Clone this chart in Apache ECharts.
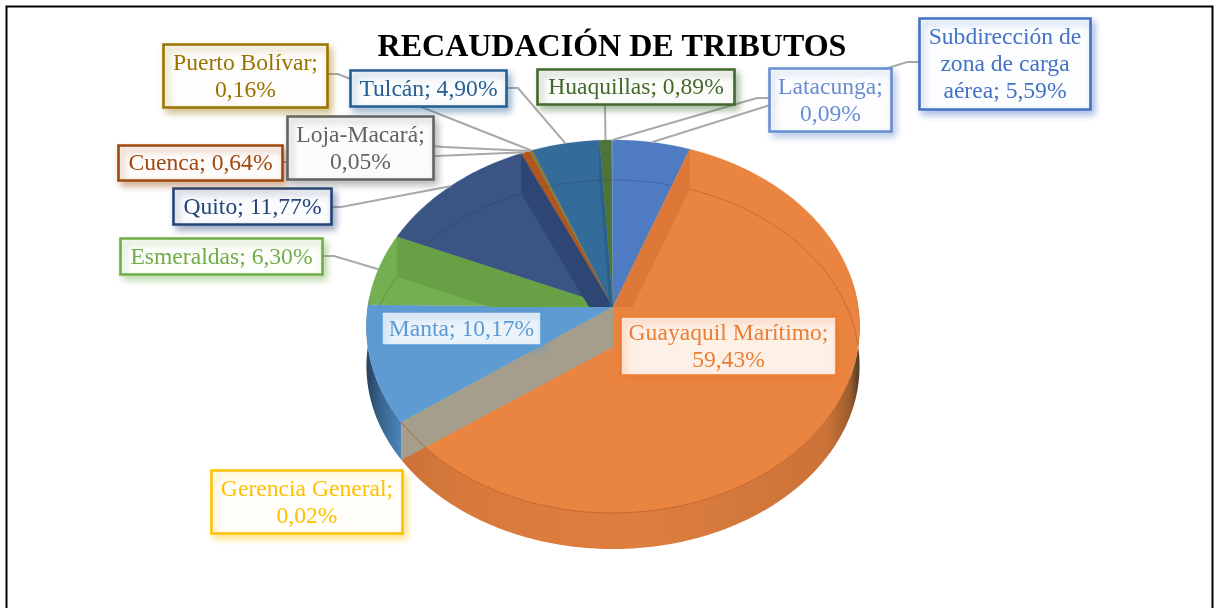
<!DOCTYPE html>
<html>
<head>
<meta charset="utf-8">
<style>html,body{margin:0;padding:0;background:#fff}#c{width:1217px;height:608px}</style>
<script src="https://cdn.jsdelivr.net/npm/echarts@6/dist/echarts.min.js"></script>
</head>
<body>
<div id="c"></div>
<script>
const titleText = 'RECAUDACIÓN DE TRIBUTOS';
const categories = ['Subdirección de zona de carga aérea','Guayaquil Marítimo','Gerencia General','Manta','Esmeraldas','Quito','Cuenca','Loja-Macará','Puerto Bolívar','Tulcán','Huaquillas','Latacunga'];
const values = [5.59,59.43,0.02,10.17,6.30,11.77,0.64,0.05,0.16,4.90,0.89,0.09];
const labelTexts = ['Subdirección de\nzona de carga\naérea; 5,59%','Guayaquil Marítimo;\n59,43%','Gerencia General;\n0,02%','Manta; 10,17%','Esmeraldas; 6,30%','Quito; 11,77%','Cuenca; 0,64%','Loja-Macará;\n0,05%','Puerto Bolívar;\n0,16%','Tulcán; 4,90%','Huaquillas; 0,89%','Latacunga;\n0,09%'];

// styles
const colors = ['#4472C4','#ED7D31','#FFC000','#5B9BD5','#70AD47','#264478','#9E480E','#636363','#997300','#255E91','#43682B','#698ED0'];
const faceColors = ['#4F7BC3','#E98541','#FFC000','#5E9BD3','#74AF52','#3A5483','#B0551B','#636363','#8C7A20','#336B99','#4E7539','#698ED0'];
const wallColors = ['#4A74BA','#DE7838','#A59E8D','#5593CC','#67A045','#2E4674','#A04C16','#555555','#7F6E18','#2C5F8C','#43682B','#5F84C6'];
// label boxes: x,y,w,h, fill opacity and leader elbow [fromX,fromY,elbowX,elbowY]
const boxes = [
 {x:919,y:18,w:171,h:91,a:.96,lead:[919,62,907,62]},
 {x:620,y:316,w:216,h:59,a:.88},
 {x:211,y:470,w:191,h:63,a:.96},
 {x:381,y:311,w:160,h:34,a:.88},
 {x:120,y:238,w:202,h:36,a:.96,lead:[322,256,334,256]},
 {x:173,y:188,w:158,h:36,a:.96,lead:[331,207,341,207]},
 {x:118,y:145,w:164,h:35,a:.96,lead:[282,162,292,162]},
 {x:287,y:116,w:146,h:63,a:.96,lead:[433,146,443,147]},
 {x:163,y:44,w:164,h:63,a:.96,lead:[327,74,338,74]},
 {x:350,y:70,w:156,h:36,a:.96,lead:[506,88,518,88]},
 {x:537,y:69,w:197,h:35,a:.96,lead:[605,104,605,110]},
 {x:769,y:68,w:122,h:63,a:.96,lead:[769,98,757,98]}
];
// perspective pie geometry
const CX=613, HUB=307, A=245.2, B=184.5, K=0.1045;
const total = values.reduce((a,b)=>a+b,0);
const cum=[0]; values.forEach((v,i)=>cum.push(cum[i]+v));
const ang=f=>f/total*Math.PI*2;
function depthAt(t,on){ if(!on) return 0; const v=Math.cos(t); return 40+4*Math.min(v,0); }
function pr(t,low){ const u=Math.sin(t),v=Math.cos(t),w=1+K*v; return [CX+A*u/w, HUB-B*v/w+depthAt(t,low)]; }
function arc(t1,t2,low){ const n=Math.max(2,Math.ceil(Math.abs(t2-t1)/0.01)),p=[]; for(let i=0;i<=n;i++) p.push(pr(t1+(t2-t1)*i/n,low)); return p; }
const data = categories.map((n,i)=>({name:n,value:values[i]}));
const base = {type:'custom',coordinateSystem:'none',silent:true,animation:false,clip:false,data:data};

function sideItem(p){
  const i=p.dataIndex; let t1=ang(cum[i]),t2=ang(cum[i+1]);
  let fill;
  if(i===1){ t1=Math.PI*0.45; fill=new echarts.graphic.LinearGradient(1,0,0,0,[{offset:0,color:'#4F3A26'},{offset:.02,color:'#9A5C2C'},{offset:.07,color:'#CC7238'},{offset:.5,color:'#DE7F40'},{offset:.85,color:'#D87A3C'},{offset:1,color:'#CC7238'}]); }
  else if(i===3){ t2=Math.PI*1.52; fill=new echarts.graphic.LinearGradient(0,0,1,0,[{offset:0,color:'#27405C'},{offset:.35,color:'#36618A'},{offset:1,color:'#4C86BC'}]); }
  else return null;
  return {type:'polygon',shape:{points:arc(t1,t2,false).concat(arc(t2,t1,true))},style:{fill:fill}};
}
function faceItem(p){
  const i=p.dataIndex,pts=[[CX,HUB]].concat(arc(ang(cum[i]),ang(cum[i+1]),false));
  return {type:'polygon',shape:{points:pts},style:{fill:faceColors[i],stroke:faceColors[i],lineWidth:0.3}};
}
function edgeWall(t){ // wall of a back boundary, shown down to the hub level
  const a=pr(t,false),b=pr(t,true),hubLow=[CX,HUB+40];
  const s=40/(hubLow[1]-b[1]);
  return [[CX,HUB],a,b,[CX+(b[0]-CX)*s,HUB]];
}
function wallItem(p){
  const i=p.dataIndex,ts=ang(cum[i]),te=ang(cum[i+1]);
  let pts=null;
  if(i===2){ const a=pr(ts,false),b=pr(ts,true); pts=[[CX,HUB],a,b,[CX,HUB+40]]; }
  else if(i===1) pts=edgeWall(ts);
  else if(values[i]>2 && Math.cos(te)>0.02 && Math.sin(te)<-0.02) pts=edgeWall(te);
  if(!pts) return null;
  return {type:'polygon',shape:{points:pts},style:{fill:wallColors[i]}};
}
function innerArcItem(p){
  const i=p.dataIndex,ts=ang(cum[i]),te=ang(cum[i+1]);
  const inner=arc(ts,te,true).filter(q=>{
    const ex=(q[0]-613)/246.5, ey=(q[1]-326.5)/186.5;
    if(ex*ex+ey*ey>0.999) return false;
    return q[0]>CX ? true : q[1]<=HUB;
  });
  const pts=i===1?inner.filter(q=>q[0]>CX-5 && (q[1]<HUB+140)):inner;
  if(pts.length<2) return null;
  return {type:'polyline',shape:{points:pts},style:{fill:null,stroke:'rgba(40,30,50,0.28)',lineWidth:0.8}};
}
function rimItem(p){
  const i=p.dataIndex; if(i!==1) return null;
  return {type:'polyline',shape:{points:arc(Math.PI*0.62,ang(cum[i+1]),false)},style:{fill:null,stroke:'#C4622A',lineWidth:1}};
}
function leaderItem(p){
  const i=p.dataIndex,b=boxes[i]; if(!b.lead) return null;
  const mid=ang((cum[i]+cum[i+1])/2),r=pr(mid,false);
  return {type:'polyline',shape:{points:[[b.lead[0],b.lead[1]],[b.lead[2],b.lead[3]],r]},style:{fill:null,stroke:'#A9A9A9',lineWidth:2}};
}
function boxItem(p){
  const i=p.dataIndex,b=boxes[i];
  return {type:'group',children:[
    {type:'rect',shape:{x:b.x+.5,y:b.y+.5,width:b.w,height:b.h},style:{fill:'rgba(255,255,255,'+b.a+')',stroke:colors[i],lineWidth:2.6,shadowBlur:7,shadowOffsetX:3,shadowOffsetY:4,shadowColor:colors[i]+'77'}},
    {type:'text',style:{text:labelTexts[i],x:b.x+b.w/2+.5,y:b.y+b.h/2+1.5,align:'center',verticalAlign:'middle',fill:colors[i],font:'23.6px "Liberation Serif"',lineHeight:27}}
  ]};
}
const chart=echarts.init(document.getElementById('c'),null,{renderer:'canvas'});
chart.setOption({
  animation:false,
  backgroundColor:'#fff',
  title:{text:titleText,left:607,top:27,textAlign:'center',textStyle:{fontFamily:'Liberation Serif',fontWeight:'bold',fontSize:32,color:'#000'}},
  graphic:[{type:'rect',z:0,shape:{x:6.5,y:6.5,width:1206,height:640},style:{fill:'none',stroke:'#000',lineWidth:2}}],
  series:[
    Object.assign({},base,{z:2,renderItem:sideItem}),
    Object.assign({},base,{z:3,renderItem:faceItem}),
    Object.assign({},base,{z:4,renderItem:innerArcItem}),
    Object.assign({},base,{z:5,renderItem:wallItem}),
    Object.assign({},base,{z:6,renderItem:rimItem}),
    Object.assign({},base,{z:7,renderItem:leaderItem}),
    Object.assign({},base,{z:8,renderItem:boxItem})
  ]
});
</script>
</body>
</html>
